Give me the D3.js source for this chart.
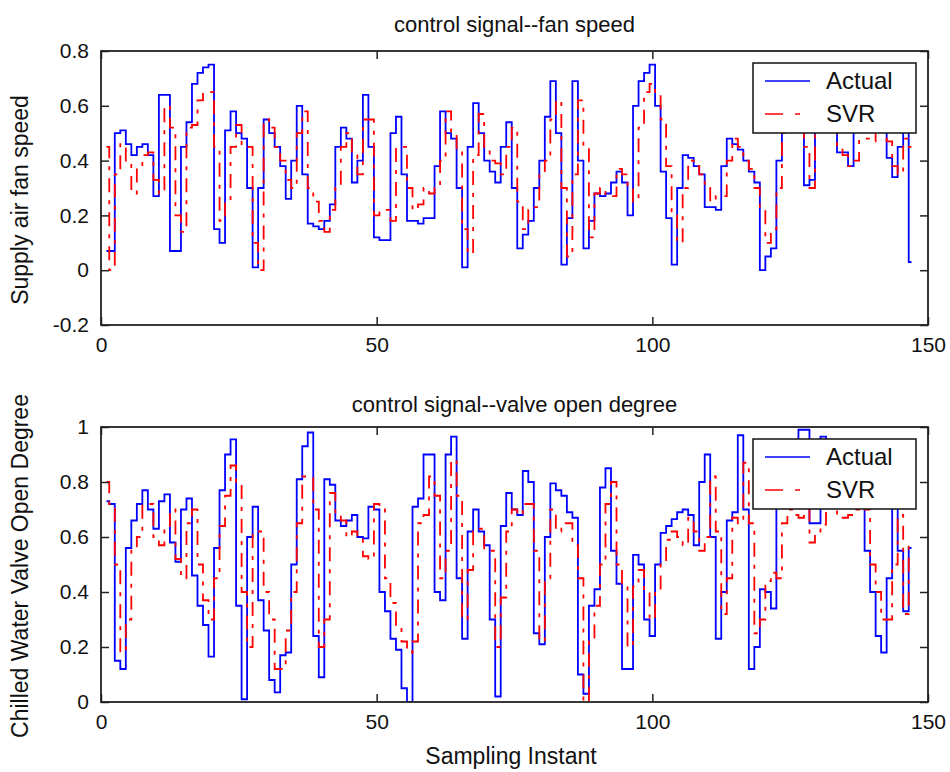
<!DOCTYPE html>
<html>
<head>
<meta charset="utf-8">
<script src="https://cdn.jsdelivr.net/npm/d3@7/dist/d3.min.js"></script>
<style>
  html, body { margin: 0; padding: 0; background: #fff; }
  svg { display: block; font-family: "Liberation Sans", Arial, sans-serif; }
</style>
</head>
<body>
<svg id="chart" width="950" height="772"></svg>
<script>
// Sampling instants run 1..147; each array below holds one value per instant.
const fanActual = [
  0.07, 0.07, 0.50, 0.51, 0.46, 0.42, 0.45, 0.46, 0.42, 0.27,
  0.64, 0.64, 0.07, 0.07, 0.45, 0.54, 0.68, 0.72, 0.74, 0.75,
  0.15, 0.10, 0.51, 0.58, 0.50, 0.48, 0.30, 0.01, 0.30, 0.55,
  0.50, 0.45, 0.38, 0.26, 0.40, 0.60, 0.35, 0.17, 0.16, 0.15,
  0.18, 0.24, 0.45, 0.52, 0.48, 0.32, 0.40, 0.64, 0.45, 0.12,
  0.11, 0.11, 0.50, 0.56, 0.35, 0.18, 0.18, 0.17, 0.19, 0.19,
  0.38, 0.58, 0.50, 0.48, 0.30, 0.01, 0.45, 0.61, 0.50, 0.40,
  0.36, 0.32, 0.45, 0.54, 0.30, 0.08, 0.13, 0.18, 0.30, 0.40,
  0.56, 0.69, 0.50, 0.02, 0.19, 0.69, 0.40, 0.08, 0.18, 0.28,
  0.27, 0.28, 0.32, 0.36, 0.32, 0.20, 0.60, 0.69, 0.72, 0.75,
  0.60, 0.36, 0.19, 0.02, 0.30, 0.42, 0.41, 0.38, 0.35, 0.23,
  0.23, 0.22, 0.38, 0.48, 0.46, 0.44, 0.40, 0.36, 0.32, 0.00,
  0.05, 0.08, 0.40, 0.55, 0.62, 0.60, 0.52, 0.31, 0.33, 0.62,
  0.65, 0.60, 0.55, 0.43, 0.43, 0.38, 0.55, 0.62, 0.65, 0.60,
  0.62, 0.60, 0.41, 0.34, 0.45, 0.60, 0.03
];
const fanSVR = [
  0.45, 0.00, 0.35, 0.46, 0.40, 0.28, 0.38, 0.42, 0.43, 0.33,
  0.28, 0.60, 0.52, 0.20, 0.14, 0.52, 0.53, 0.62, 0.65, 0.65,
  0.45, 0.18, 0.25, 0.45, 0.53, 0.45, 0.45, 0.10, 0.00, 0.55,
  0.52, 0.45, 0.40, 0.33, 0.30, 0.50, 0.58, 0.30, 0.25, 0.18,
  0.14, 0.22, 0.30, 0.45, 0.50, 0.42, 0.35, 0.55, 0.55, 0.20,
  0.22, 0.22, 0.18, 0.45, 0.45, 0.30, 0.22, 0.24, 0.30, 0.28,
  0.30, 0.40, 0.58, 0.50, 0.43, 0.15, 0.06, 0.42, 0.57, 0.45,
  0.40, 0.39, 0.35, 0.45, 0.52, 0.25, 0.15, 0.22, 0.23, 0.35,
  0.40, 0.55, 0.62, 0.30, 0.05, 0.35, 0.62, 0.45, 0.12, 0.28,
  0.30, 0.27, 0.27, 0.37, 0.35, 0.30, 0.25, 0.52, 0.65, 0.68,
  0.64, 0.55, 0.38, 0.20, 0.10, 0.30, 0.40, 0.38, 0.35, 0.30,
  0.25, 0.27, 0.27, 0.40, 0.48, 0.45, 0.40, 0.37, 0.30, 0.23,
  0.10, 0.15, 0.30, 0.50, 0.60, 0.62, 0.60, 0.45, 0.30, 0.50,
  0.60, 0.62, 0.58, 0.45, 0.42, 0.38, 0.40, 0.52, 0.48, 0.47,
  0.55, 0.58, 0.47, 0.38, 0.35, 0.48, 0.45
];
const valveActual = [
  0.73, 0.72, 0.15, 0.12, 0.56, 0.66, 0.72, 0.77, 0.70, 0.63,
  0.73, 0.755, 0.58, 0.51, 0.70, 0.74, 0.46, 0.35, 0.28, 0.165,
  0.56, 0.77, 0.90, 0.955, 0.35, 0.01, 0.60, 0.71, 0.37, 0.26,
  0.08, 0.035, 0.17, 0.18, 0.50, 0.81, 0.93, 0.98, 0.24, 0.09,
  0.81, 0.79, 0.66, 0.64, 0.66, 0.68, 0.60, 0.595, 0.71, 0.70,
  0.40, 0.33, 0.23, 0.19, 0.05, 0.00, 0.71, 0.74, 0.90, 0.90,
  0.40, 0.37, 0.90, 0.965, 0.45, 0.23, 0.62, 0.70, 0.62, 0.57,
  0.30, 0.02, 0.64, 0.76, 0.70, 0.68, 0.84, 0.80, 0.25, 0.21,
  0.60, 0.795, 0.77, 0.75, 0.69, 0.67, 0.10, 0.03, 0.35, 0.41,
  0.78, 0.85, 0.55, 0.43, 0.12, 0.12, 0.535, 0.50, 0.30, 0.24,
  0.50, 0.615, 0.64, 0.665, 0.69, 0.70, 0.68, 0.57, 0.80, 0.90,
  0.60, 0.23, 0.40, 0.66, 0.69, 0.97, 0.70, 0.12, 0.20, 0.41,
  0.40, 0.34, 0.72, 0.78, 0.80, 0.85, 0.99, 0.99, 0.65, 0.65,
  0.965, 0.93, 0.80, 0.78, 0.75, 0.78, 0.85, 0.78, 0.55, 0.40,
  0.24, 0.18, 0.45, 0.75, 0.55, 0.33, 0.56
];
const valveSVR = [
  0.80, 0.72, 0.50, 0.18, 0.30, 0.55, 0.60, 0.72, 0.72, 0.60,
  0.57, 0.64, 0.70, 0.52, 0.45, 0.65, 0.70, 0.50, 0.37, 0.30,
  0.45, 0.64, 0.75, 0.86, 0.80, 0.40, 0.20, 0.62, 0.62, 0.40,
  0.30, 0.12, 0.12, 0.26, 0.40, 0.65, 0.82, 0.82, 0.70, 0.20,
  0.30, 0.76, 0.68, 0.66, 0.60, 0.62, 0.60, 0.53, 0.52, 0.72,
  0.70, 0.45, 0.36, 0.28, 0.22, 0.18, 0.22, 0.65, 0.68, 0.82,
  0.75, 0.45, 0.55, 0.88, 0.75, 0.30, 0.48, 0.62, 0.63, 0.55,
  0.55, 0.20, 0.38, 0.62, 0.70, 0.68, 0.72, 0.72, 0.55, 0.22,
  0.45, 0.70, 0.62, 0.65, 0.65, 0.57, 0.45, 0.00, 0.22, 0.35,
  0.50, 0.72, 0.80, 0.50, 0.43, 0.20, 0.42, 0.48, 0.40, 0.30,
  0.40, 0.50, 0.59, 0.62, 0.60, 0.57, 0.67, 0.62, 0.55, 0.60,
  0.82, 0.62, 0.32, 0.45, 0.67, 0.65, 0.87, 0.65, 0.25, 0.30,
  0.44, 0.47, 0.45, 0.65, 0.70, 0.68, 0.67, 0.72, 0.58, 0.62,
  0.645, 0.75, 0.72, 0.67, 0.67, 0.68, 0.70, 0.72, 0.70, 0.50,
  0.40, 0.30, 0.30, 0.50, 0.68, 0.32, 0.58
];

const xTicks = [0, 50, 100, 150];
const fanTicks = [-0.2, 0, 0.2, 0.4, 0.6, 0.8];
const valveTicks = [0, 0.2, 0.4, 0.6, 0.8, 1];
const seriesNames = ["Actual", "SVR"];

const panels = [
  {
    title: "control signal--fan speed",
    ylabel: "Supply air fan speed",
    yDomain: [-0.2, 0.8], yTicks: fanTicks,
    actual: fanActual, svr: fanSVR,
    top: 51, bottom: 325, titleY: 32, ylabelY: 200
  },
  {
    title: "control signal--valve open degree",
    ylabel: "Chilled Water Valve Open Degree",
    yDomain: [0, 1], yTicks: valveTicks,
    actual: valveActual, svr: valveSVR,
    top: 427, bottom: 702, titleY: 412, ylabelY: 566
  }
];

const left = 101, right = 928;
const svg = d3.select("#chart");
const fmt = d => String(+d.toFixed(1));
const axisColor = "#222";
const dashDot = "14,8,4,8";

panels.forEach((p, k) => {
  const x = d3.scaleLinear().domain([0, 150]).range([left, right]);
  const y = d3.scaleLinear().domain(p.yDomain).range([p.bottom, p.top]);
  const g = svg.append("g");

  const clipId = "clip" + k;
  svg.append("clipPath").attr("id", clipId)
    .append("rect").attr("x", left).attr("y", p.top)
    .attr("width", right - left).attr("height", p.bottom - p.top);

  // data traces, held between sampling instants
  const line = d3.line().curve(d3.curveStep).x((d, i) => x(i + 1)).y(d => y(d));
  const lines = g.append("g").attr("clip-path", `url(#${clipId})`);
  lines.append("path").datum(p.actual)
    .attr("d", line).attr("fill", "none")
    .attr("stroke", "#0000ff").attr("stroke-width", 1.8);
  lines.append("path").datum(p.svr)
    .attr("d", line).attr("fill", "none")
    .attr("stroke", "#ff0000").attr("stroke-width", 1.8)
    .attr("stroke-dasharray", dashDot);

  // axes with inward ticks on all four sides
  const tick = 8;
  const bottomAxis = d3.axisBottom(x).tickValues(xTicks).tickSize(-tick).tickPadding(12).tickFormat(fmt);
  const topAxis = d3.axisTop(x).tickValues(xTicks).tickSize(-tick).tickFormat("");
  const leftAxis = d3.axisLeft(y).tickValues(p.yTicks).tickSize(-tick).tickPadding(12).tickFormat(fmt);
  const rightAxis = d3.axisRight(y).tickValues(p.yTicks).tickSize(-tick).tickFormat("");

  const axes = [
    [bottomAxis, `translate(0,${p.bottom})`],
    [topAxis, `translate(0,${p.top})`],
    [leftAxis, `translate(${left},0)`],
    [rightAxis, `translate(${right},0)`]
  ];
  axes.forEach(([ax, tr]) => {
    const a = g.append("g").attr("transform", tr).call(ax);
    a.select(".domain").remove();
    a.selectAll(".tick line").attr("stroke", axisColor).attr("stroke-width", 1.5);
    a.selectAll(".tick text").attr("fill", "#111")
      .style("font-size", "21px").style("font-family", "'Liberation Sans', Arial, sans-serif");
  });

  g.append("rect").attr("x", left).attr("y", p.top)
    .attr("width", right - left).attr("height", p.bottom - p.top)
    .attr("fill", "none").attr("stroke", axisColor).attr("stroke-width", 1.8);

  // title and y label
  g.append("text").attr("x", (left + right) / 2).attr("y", p.titleY)
    .attr("text-anchor", "middle").attr("font-size", 22).attr("fill", "#111")
    .text(p.title);
  g.append("text")
    .attr("transform", `translate(28,${p.ylabelY}) rotate(-90)`)
    .attr("text-anchor", "middle").attr("font-size", 23).attr("fill", "#111")
    .text(p.ylabel);

  // legend
  const lx = 753, ly = p.top + 12, lw = 163, lh = 70;
  const lg = g.append("g");
  lg.append("rect").attr("x", lx).attr("y", ly).attr("width", lw).attr("height", lh)
    .attr("fill", "#fff").attr("stroke", "#111").attr("stroke-width", 1.5);
  const styles = [
    { color: "#0000ff", dash: null },
    { color: "#ff0000", dash: "18,12,5,12" }
  ];
  seriesNames.forEach((name, j) => {
    const cy = ly + 18 + j * 33;
    lg.append("line").attr("x1", lx + 12).attr("x2", lx + 57)
      .attr("y1", cy).attr("y2", cy)
      .attr("stroke", styles[j].color).attr("stroke-width", 1.5)
      .attr("stroke-dasharray", styles[j].dash);
    lg.append("text").attr("x", lx + 73).attr("y", cy + 8)
      .attr("font-size", 24).attr("fill", "#111").text(name);
  });
});

// shared x label
svg.append("text").attr("x", 511).attr("y", 764)
  .attr("text-anchor", "middle").attr("font-size", 23).attr("fill", "#111")
  .text("Sampling Instant");
</script>
</body>
</html>
